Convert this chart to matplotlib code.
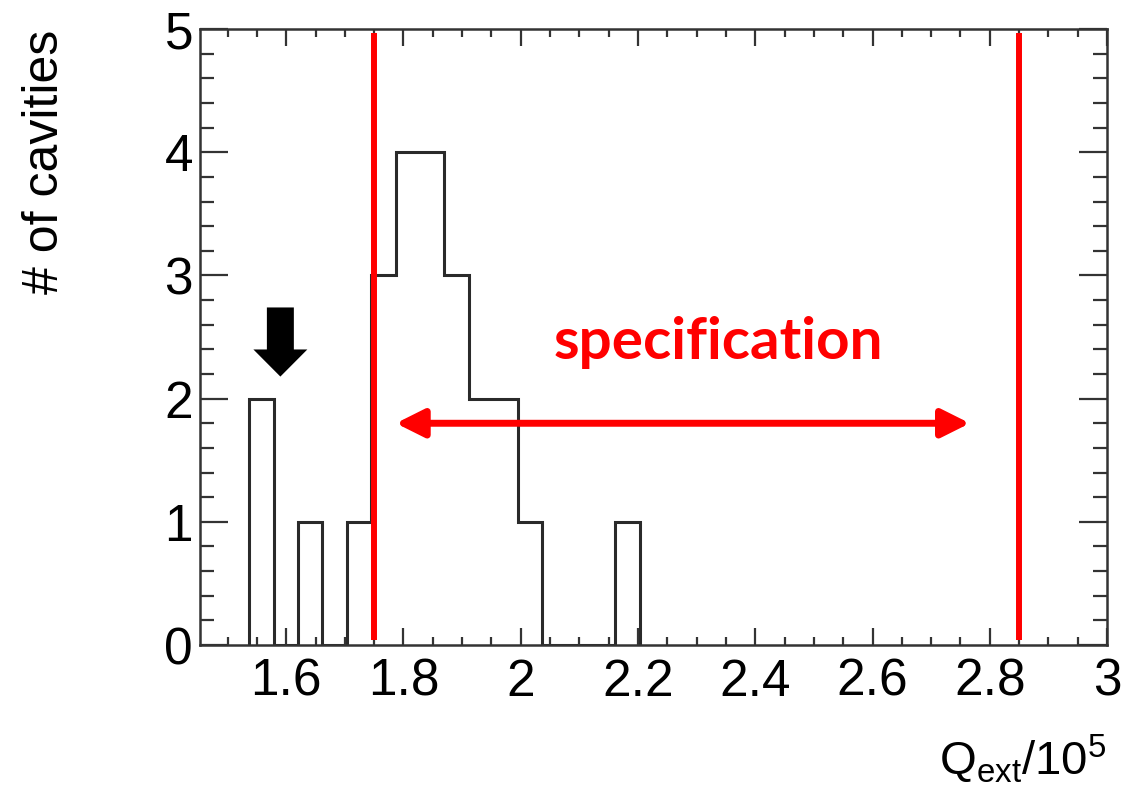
import numpy as np
import matplotlib.pyplot as plt
from matplotlib.patches import FancyArrow
from matplotlib.ticker import MultipleLocator

plt.rcParams['font.family'] = ['Liberation Sans', 'DejaVu Sans']
plt.rcParams['mathtext.fontset'] = 'custom'
plt.rcParams['mathtext.rm'] = 'Liberation Sans'
plt.rcParams['mathtext.it'] = 'Liberation Sans'

# histogram of Q_ext / 1e5
bin_start = 1.537
bin_width = 0.0416
counts = [2, 0, 1, 0, 1, 3, 4, 4, 3, 2, 2, 1, 0, 0, 0, 1]
edges = bin_start + bin_width * np.arange(len(counts) + 1)

spec_low = 1.75
spec_high = 2.85
spec_arrow = (1.787, 2.766)
spec_arrow_y = 1.8
marker_x = 1.59

fig = plt.figure(figsize=(11.27, 7.93), dpi=100)
ax = fig.add_axes([0.1775, 0.1866, 0.8048, 0.7768])

ax.stairs(counts, edges, color='#2a2a2a', lw=2.2)

# specification limits
for xv in (spec_low, spec_high):
    ax.plot([xv, xv], [0.04, 4.97], color='#ff0000', lw=4.3, solid_capstyle='butt')

ax.annotate('', xy=(spec_arrow[0], spec_arrow_y), xytext=(spec_arrow[1], spec_arrow_y),
            arrowprops=dict(arrowstyle='<|-|>,head_length=17,head_width=8.5', mutation_scale=1,
                            color='#ff0000', lw=5, shrinkA=0, shrinkB=0))
ax.text(2.3375, 2.325, 'specification', color='#ff0000', fontsize=42,
        fontweight='bold', family=['Lato', 'DejaVu Sans'], ha='center', va='baseline')

# black marker arrow over the low bins
ax.add_patch(FancyArrow(marker_x, 2.74, 0, -0.561, width=0.046, head_width=0.092,
                        head_length=0.22, length_includes_head=True,
                        color='black', lw=0))

ax.set_xlim(1.453, 3.0)
ax.set_ylim(0, 5)
ax.xaxis.set_major_locator(MultipleLocator(0.2))
ax.xaxis.set_minor_locator(MultipleLocator(0.05))
ax.yaxis.set_major_locator(MultipleLocator(1))
ax.yaxis.set_minor_locator(MultipleLocator(0.2))
ax.set_xticks([1.6, 1.8, 2.0, 2.2, 2.4, 2.6, 2.8, 3.0])
ax.set_xticklabels(['1.6', '1.8', '2', '2.2', '2.4', '2.6', '2.8', '3'])
ax.set_yticks([0, 1, 2, 3, 4, 5])
ax.set_yticklabels(['0', '1', '2', '3', '4', '5'])

ax.tick_params(axis='both', which='both', direction='in', top=True, right=True,
               color='#333333', width=1.6, labelsize=37)
ax.tick_params(axis='x', which='major', length=12, pad=9)
ax.tick_params(axis='x', which='minor', length=6)
ax.tick_params(axis='y', which='major', length=20, pad=5)
ax.tick_params(axis='y', which='minor', length=10)
for sp in ax.spines.values():
    sp.set_linewidth(1.8)
    sp.set_color('#333333')

fig.text(1107 / 1127, 1 - 774 / 793, r'Q$_{\rm ext}$/10$^{5}$', fontsize=34,
         ha='right', va='baseline')
fig.text(45 / 1127, 1 - 30 / 793, '# of cavities', fontsize=36, rotation=90,
         ha='center', va='top')

fig.savefig('out.png', dpi=100)
